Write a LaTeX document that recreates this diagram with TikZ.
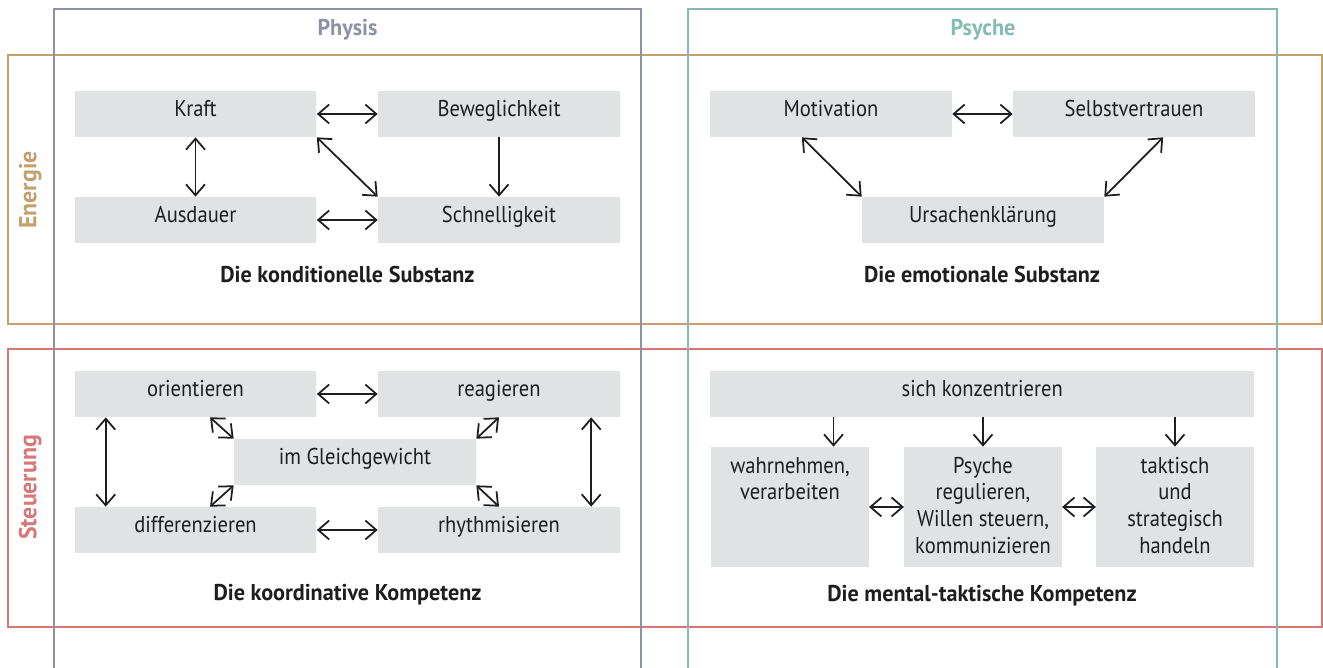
\documentclass[tikz,border=0pt]{standalone}
\usepackage{fontspec}
\setmainfont{PT Sans}[FakeStretch=0.9]
\newfontfamily\hfont{PT Sans}[FakeStretch=0.97]
\usetikzlibrary{arrows.meta,calc}
\definecolor{physc}{HTML}{8E92A8}
\definecolor{psyc}{HTML}{84BCB4}
\definecolor{enc}{HTML}{C4A06E}
\definecolor{stc}{HTML}{D67878}
\definecolor{boxc}{HTML}{E1E2E4}
\definecolor{txtc}{HTML}{1E1E1E}
\begin{document}
\begin{tikzpicture}[x=0.02cm,y=-0.02cm,
  >={Straight Barb[length=2.2mm,width=3.8mm]},
  frame/.style={line width=1.4pt},
  gbox/.style={fill=boxc, inner sep=0pt, minimum width=4.84cm, minimum height=0.92cm,
    text height=0.52cm, text depth=0.40cm, font=\fontsize{13}{15.2}\selectfont, text=txtc},
  tallbox/.style={gbox, minimum width=3.15cm, minimum height=2.4cm, text depth=1.88cm},
  arr/.style={line width=1pt, draw=txtc},
  title/.style={font=\fontsize{13}{15.2}\selectfont\hfont\bfseries, text=txtc, anchor=base, inner sep=0pt},
  head/.style={font=\fontsize{13}{15.2}\selectfont\hfont\bfseries, anchor=base, inner sep=0pt},
  rowhead/.style={font=\fontsize{14}{16}\selectfont\hfont\bfseries, anchor=base, inner sep=0pt, rotate=90},
]
\useasboundingbox (0,0) rectangle (1323,668);

% row frames
\draw[frame, enc] (8,55) rectangle (1322,324);
\draw[frame, stc] (8,349) rectangle (1322,627);
% column frames
\draw[frame, physc] (54,668) -- (54,9) -- (641,9) -- (641,668);
\draw[frame, psyc] (688,668) -- (688,9) -- (1277,9) -- (1277,668);

% headings
\node[head, text=physc] (hphys) at (347.5,36) {Physis};
\node[head, text=psyc] (hpsy) at (983,36) {Psyche};
\node[rowhead, text=enc] (hen) at (36.5,190) {Energie};
\node[rowhead, text=stc] (hst) at (36.5,487.5) {Steuerung};

% Energie / Physis
\node[gbox] (kraft) at (195.5,114) {Kraft};
\node[gbox] (beweg) at (499,114) {Beweglichkeit};
\node[gbox] (ausd) at (195.5,220) {Ausdauer};
\node[gbox] (schnell) at (499,220) {Schnelligkeit};
\node[title] (t1) at (347.5,283) {Die konditionelle Substanz};
\draw[arr,<->] (kraft) -- (beweg);
\draw[arr,<->] (ausd) -- (schnell);
\draw[arr,<->] (kraft) -- (ausd);
\draw[arr,<->] (kraft.south east) -- (schnell.north west);
\draw[arr,->] (beweg) -- (schnell);

% Energie / Psyche
\node[gbox] (motiv) at (831,114) {Motivation};
\node[gbox] (selbst) at (1134,114) {Selbstvertrauen};
\node[gbox] (ursach) at (983,220) {Ursachenklärung};
\node[title] (t2) at (982,283) {Die emotionale Substanz};
\draw[arr,<->] (motiv) -- (selbst);
\draw[arr,<->] ($(motiv.south west)!0.38!(motiv.south east)$) -- (ursach.north west);
\draw[arr,<->] ($(selbst.south west)!0.62!(selbst.south east)$) -- (ursach.north east);

% Steuerung / Physis
\node[gbox] (orient) at (195.5,394) {orientieren};
\node[gbox] (reag) at (499,394) {reagieren};
\node[gbox] (gleich) at (355,462) {im Gleichgewicht};
\node[gbox] (diff) at (195.5,530) {differenzieren};
\node[gbox] (rhyth) at (499,530) {rhythmisieren};
\node[title] (t3) at (347.5,601) {Die koordinative Kompetenz};
\draw[arr,<->] (orient) -- (reag);
\draw[arr,<->] (diff) -- (rhyth);
\coordinate (ol) at ($(orient.south west)!0.13!(orient.south east)$);
\coordinate (rr) at ($(reag.south west)!0.88!(reag.south east)$);
\draw[arr,<->] (ol) -- (ol |- diff.north);
\draw[arr,<->] (rr) -- (rr |- rhyth.north);
\coordinate (om) at ($(orient.south west)!0.56!(orient.south east)$);
\coordinate (dm) at ($(diff.north west)!0.56!(diff.north east)$);
\draw[arr,<->] (om) -- (gleich.north west);
\draw[arr,<->] (reag.south) -- (gleich.north east);
\draw[arr,<->] (gleich.south west) -- (dm);
\draw[arr,<->] (gleich.south east) -- (rhyth.north);

% Steuerung / Psyche
\node[gbox, minimum width=10.89cm] (konz) at (982.25,394) {sich konzentrieren};
\node[tallbox] (wahr) at (790,507) {\begin{tabular}[t]{@{}c@{}}wahrnehmen,\\verarbeiten\end{tabular}};
\node[tallbox] (psy) at (983,507) {\begin{tabular}[t]{@{}c@{}}Psyche\\regulieren,\\Willen steuern,\\kommunizieren\end{tabular}};
\node[tallbox] (takt) at (1175,507) {\begin{tabular}[t]{@{}c@{}}taktisch\\und\\strategisch\\handeln\end{tabular}};
\node[title] (t4) at (982,602) {Die mental-taktische Kompetenz};
\coordinate (w1) at ($(wahr.north west)!0.775!(wahr.north east)$);
\draw[arr,->] (w1 |- konz.south) -- (w1);
\draw[arr,->] (psy.north |- konz.south) -- (psy.north);
\draw[arr,->] (takt.north |- konz.south) -- (takt.north);
\draw[arr,<->] (wahr) -- (psy);
\draw[arr,<->] (psy) -- (takt);
\end{tikzpicture}
\end{document}
